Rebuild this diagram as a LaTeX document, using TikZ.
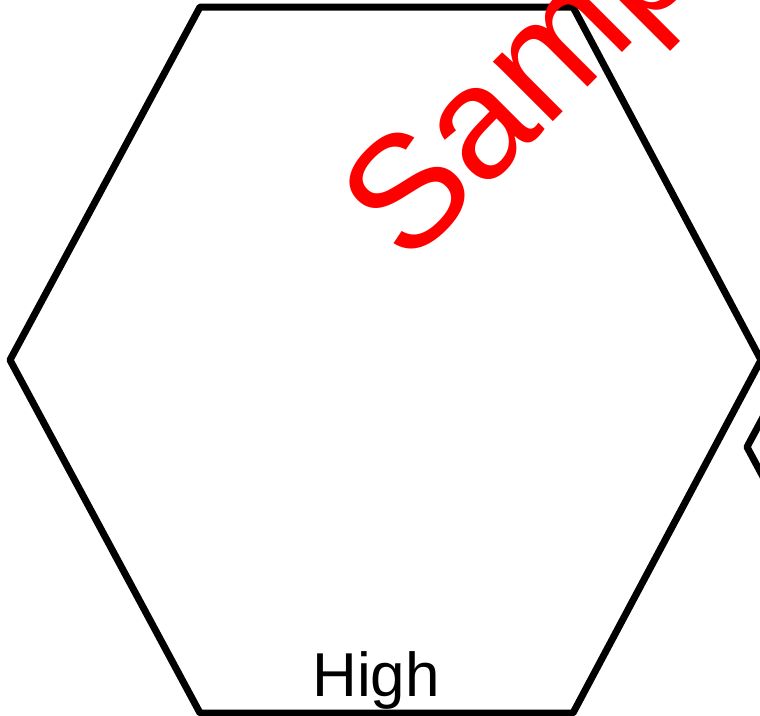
\documentclass[tikz,border=0pt]{standalone}
\usepackage{fontspec}
\setmainfont{Liberation Sans}
\begin{document}
\begin{tikzpicture}[x=1pt,y=-1pt,
  hexline/.style={draw=black,line width=7pt,line join=round},
  label/.style={inner sep=0pt,font=\fontsize{62}{62}\selectfont},
  watermark/.style={inner sep=0pt,text=red,rotate=45,font=\fontsize{160}{160}\selectfont}]
\useasboundingbox (0,0) rectangle (760,715);
\clip (0,0) rectangle (760,715);
\draw[hexline] (200,7) -- (573,7) -- (761,360) -- (573,713) -- (200,713) -- (10,360) -- cycle;
\draw[hexline] (937,94) -- (1310,94) -- (1498,447) -- (1310,800) -- (937,800) -- (747,447) -- cycle;
\node[label,anchor=base] (high) at (376,696) {High};
\node[watermark,anchor=base west] (wm) at (407,268) {Sample};
\end{tikzpicture}
\end{document}
